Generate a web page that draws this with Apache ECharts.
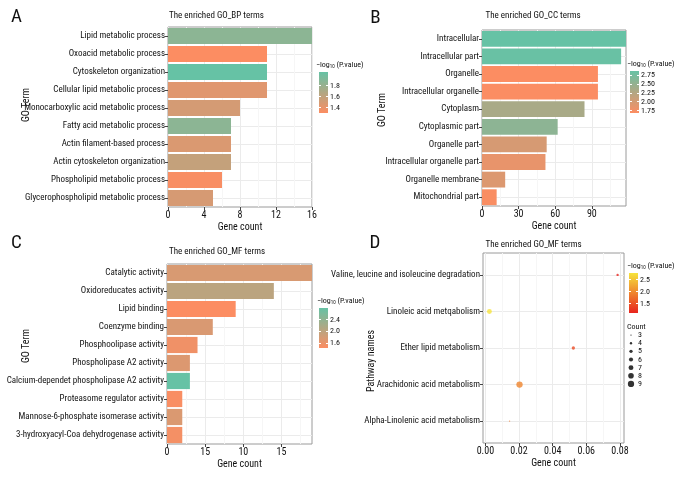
<!DOCTYPE html>
<html><head><meta charset="utf-8">
<script src="https://cdn.jsdelivr.net/npm/echarts@6/dist/echarts.min.js"></script>
<style>html,body{margin:0;padding:0;background:#fff}#c{width:680px;height:480px}</style>
</head><body><div id="c"></div>
<script>
// ---------------- DATA ----------------
// Panel A – GO BP
const termsA = ['Lipid metabolic process','Oxoacid metabolic process','Cytoskeleton organization','Cellular lipid metabolic process','Monocarboxylic acid metabolic process','Fatty acid metabolic process','Actin filament-based process','Actin cytoskeleton organization','Phospholipid metabolic process','Glycerophospholipid metabolic process'];
const countA = [16,11,11,11,8,7,7,7,6,5];
const pA = [1.86,1.30,2.05,1.44,1.50,1.86,1.47,1.58,1.32,1.49];
const ticksA = [0,4,8,12,16];
const legTicksA = [1.4,1.6,1.8];

// Panel B – GO CC
const termsB = ['Intracellular','Intracellular part','Organelle','Intracellular organelle','Cytoplasm','Cytoplasmic part','Organelle part','Intracellular organelle part','Organelle membrane','Mitochondrial part'];
const countB = [118,114,95,95,84,62,53,52,19,12];
const pB = [2.87,2.85,1.68,1.69,2.34,2.56,1.98,1.84,1.93,1.70];
const ticksB = [0,30,60,90];
const legTicksB = [1.75,2.00,2.25,2.50,2.75];

// Panel C – GO MF
const termsC = ['Catalytic activity','Oxidoreducates activity','Lipid binding','Coenzyme binding','Phosphoolipase activity','Phospholipase A2 activity','Calcium-dependet phospholipase A2 activity','Proteasome regulator activity','Mannose-6-phosphate isomerase activity','3-hydroxyacyl-Coa dehydrogenase activity'];
const countC = [19,14,9,6,4,3,3,2,2,2];
const pC = [1.76,2.02,1.43,1.75,1.54,1.72,2.80,1.46,1.74,1.50];
const ticksC = [0,5,10,15];
const tickLabelsC = ['0','15','10','15'];
const legTicksC = [1.6,2.0,2.4];

// Panel D – pathways
const pathD = ['Valine, leucine and isoleucine degradation','Linoleic acid metqabolism','Ether lipid metabolism','Arachidonic acid metabolism','Alpha-Linolenic acid metabolism'];
const ratioD = [0.0786,0.0024,0.0523,0.0203,0.0144];
const pD = [1.11,2.78,1.45,1.95,1.85];
const countD = [4,7,5,9,3];
const ticksD = [0,0.02,0.04,0.06,0.08];
const tickLabelsD = ['0.00','0.02','0.04','0.06','0.08'];
const legTicksD = [1.5,2.0,2.5];
const countLegend = [3,4,5,6,7,8,9];

// ---------------- STYLE ----------------
const FONT = '"Roboto Condensed","DejaVu Sans Condensed",sans-serif';
const TXT = '#111';
const LBL = 9;
const barLow = '#FC8D62', barHigh = '#66C2A5';
const dotLow = '#E8241E', dotHigh = '#F6E43C';
const GRID_C = '#ebebeb', MINOR_C = '#f6f6f6', BORDER_C = '#9a9a9a';

function sizeOf(c){ // area-like size scale
  const a = Math.sqrt(3), b = Math.sqrt(9);
  return 1.3 + (Math.sqrt(c)-a)/(b-a)*5.0;
}
const mn = a => Math.min.apply(null,a), mx = a => Math.max.apply(null,a);

const grids = [], xAxes = [], yAxes = [], series = [], visualMaps = [];

function mainGrid(box){
  grids.push({left:box[0], top:box[1], width:box[2], height:box[3], show:true, borderColor:BORDER_C, borderWidth:1, backgroundColor:'transparent', containLabel:false});
  return grids.length-1;
}
function lbl(o){ return Object.assign({fontSize:LBL, fontFamily:FONT, color:TXT, margin:3}, o||{}); }
function xValAxis(g, o){
  xAxes.push(Object.assign({type:'value', gridIndex:g, axisLine:{show:false, onZero:false},
    axisTick:{show:true, length:3, lineStyle:{color:'#444'}},
    axisLabel:lbl({fontSize:10}),
    splitLine:{show:true, lineStyle:{color:GRID_C, width:1}},
    minorTick:{show:false, splitNumber:2},
    minorSplitLine:{show:true, lineStyle:{color:MINOR_C, width:1}},
    name:'Gene count', nameLocation:'middle', nameGap:15,
    nameTextStyle:{fontSize:10, fontFamily:FONT, color:TXT}}, o));
  return xAxes.length-1;
}
function barPanel(box, terms, counts, pv, xo){
  const g = mainGrid(box);
  const xi = xValAxis(g, xo);
  yAxes.push({type:'category', gridIndex:g, data:terms, inverse:true,
    axisLine:{show:false, onZero:false},
    axisTick:{show:true, alignWithLabel:true, interval:0, length:3, lineStyle:{color:'#444'}},
    axisLabel:lbl({interval:0}),
    splitLine:{show:true, alignWithLabel:true, interval:0, lineStyle:{color:GRID_C}}});
  const yi = yAxes.length-1;
  series.push({type:'bar', xAxisIndex:xi, yAxisIndex:yi, silent:true, barCategoryGap:'10%',
    encode:{x:0, y:1},
    data: counts.map((c,k)=>[c, terms[k], pv[k]])});
  visualMaps.push({type:'continuous', show:false, seriesIndex:series.length-1, dimension:2,
    min:mn(pv), max:mx(pv), inRange:{color:[barLow, barHigh]}});
}
function colorLegend(box, pv, ticks, dec, low, high){
  grids.push({left:box[0], top:box[1], width:box[2], height:box[3], show:true, borderWidth:0,
    backgroundColor:new echarts.graphic.LinearGradient(0,0,0,1,[{offset:0,color:high},{offset:1,color:low}])});
  const g = grids.length-1;
  xAxes.push({type:'value', gridIndex:g, show:false, min:0, max:1, axisLine:{onZero:false}});
  const common = {type:'value', gridIndex:g, min:mn(pv), max:mx(pv), axisLine:{show:false, onZero:false}, splitLine:{show:false},
    axisTick:{show:true, inside:true, length:2, customValues:ticks, lineStyle:{color:'#fff'}}};
  yAxes.push(Object.assign({}, common, {position:'right',
    axisLabel:{show:true, customValues:ticks, fontSize:8, fontFamily:FONT, color:TXT, margin:2, formatter:v=>v.toFixed(dec)}}));
  yAxes.push(Object.assign({}, common, {position:'left', axisLabel:{show:false}}));
}

// Panel A
barPanel([168,27,144,180], termsA, countA, pA,
  {min:0, max:mx(countA), interval:4,
   axisTick:{show:true, length:3, customValues:ticksA, lineStyle:{color:'#444'}},
   axisLabel:lbl({fontSize:10, customValues:ticksA})});
// Panel B
barPanel([482,30,144,176], termsB, countB, pB,
  {min:0, max:mx(countB), interval:30,
   axisTick:{show:true, length:3, customValues:ticksB, lineStyle:{color:'#444'}},
   axisLabel:lbl({fontSize:10, customValues:ticksB})});
// Panel C
barPanel([167,264,145,180], termsC, countC, pC,
  {min:0, max:mx(countC), interval:5,
   axisTick:{show:true, length:3, customValues:ticksC, lineStyle:{color:'#444'}},
   axisLabel:lbl({fontSize:10, customValues:ticksC, formatter:v=>tickLabelsC[ticksC.indexOf(v)]})});

// Panel D (dot plot)
{
  const g = mainGrid([483,253,141,190]);
  const R = mx(ratioD)-mn(ratioD);
  const xi = xValAxis(g, {min:mn(ratioD)-0.05*R, max:mx(ratioD)+0.05*R,
    axisTick:{show:true, length:3, customValues:ticksD, lineStyle:{color:'#444'}},
    axisLabel:lbl({fontSize:10, customValues:ticksD,
      formatter:v=>tickLabelsD[ticksD.findIndex(t=>Math.abs(t-v)<1e-9)]})});
  const idx = pathD.map((_,k)=>k);
  yAxes.push({type:'value', gridIndex:g, min:-0.6, max:pathD.length-0.4, inverse:true,
    axisLine:{show:false, onZero:false},
    axisTick:{show:true, length:3, customValues:idx, lineStyle:{color:'#444'}},
    axisLabel:lbl({customValues:idx, formatter:v=>pathD[v]}),
    splitLine:{show:true, lineStyle:{color:GRID_C}}});
  const yi = yAxes.length-1;
  series.push({type:'scatter', xAxisIndex:xi, yAxisIndex:yi, silent:true, symbol:'circle',
    symbolSize:v=>sizeOf(v[3]),
    data: ratioD.map((x,k)=>[x, k, pD[k], countD[k]])});
  visualMaps.push({type:'continuous', show:false, seriesIndex:series.length-1, dimension:2,
    min:mn(pD), max:mx(pD), inRange:{color:[dotLow, dotHigh]}});
}

// Colour legends
colorLegend([319,72,9,41], pA, legTicksA, 1, barLow, barHigh);
colorLegend([630,71,9,42], pB, legTicksB, 2, barLow, barHigh);
colorLegend([319,308,9,40], pC, legTicksC, 1, barLow, barHigh);
colorLegend([629,273,9,40], pD, legTicksD, 1, dotLow, dotHigh);

// Count (size) legend
{
  grids.push({left:628, top:331, width:6, height:57, show:false});
  const g = grids.length-1;
  xAxes.push({type:'value', gridIndex:g, show:false, min:-1, max:1, axisLine:{onZero:false}});
  yAxes.push({type:'category', gridIndex:g, data:countLegend.map(String), inverse:true, position:'right',
    axisLine:{show:false, onZero:false}, axisTick:{show:false}, splitLine:{show:false},
    axisLabel:{interval:0, fontSize:8, fontFamily:FONT, color:TXT, margin:4}});
  series.push({type:'scatter', xAxisIndex:xAxes.length-1, yAxisIndex:yAxes.length-1, silent:true,
    symbol:'circle', itemStyle:{color:'#000'}, symbolSize:v=>sizeOf(countLegend[v[1]]),
    data: countLegend.map((c,k)=>[0,k])});
}

// Texts
function txt(x, y, text, size, o){
  o = o||{};
  const el = {type:'text', x:x, y:y, silent:true, z:100,
    style:{text:text, fontSize:size, fontFamily:FONT, fill:TXT, align:o.align||'left', verticalAlign:'middle', rich:o.rich}};
  if (o.rot) el.rotation = o.rot;
  return el;
}
const legRich = {s:{fontSize:5, fontFamily:FONT, fill:TXT, verticalAlign:'bottom', padding:[3,0,0,0]}};
const legTitle = '\u2212log{s|10} (P.value)';
const graphics = [
  txt(16.5,17,'A',19,{align:'center'}),
  txt(375.5,18,'B',19,{align:'center'}),
  txt(16.5,243,'C',19,{align:'center'}),
  txt(375,243,'D',19,{align:'center'}),
  txt(169,16,'The enriched GO_BP terms',9),
  txt(485.5,16,'The enriched GO_CC terms',9),
  txt(169,252,'The enriched GO_MF terms',9),
  txt(485.5,245,'The enriched GO_MF terms',9),
  txt(26,105,'GO Term',10,{align:'center', rot:Math.PI/2}),
  txt(382.5,110,'GO Term',10,{align:'center', rot:Math.PI/2}),
  txt(26,346,'GO Term',10,{align:'center', rot:Math.PI/2}),
  txt(371.5,361,'Pathway names',10,{align:'center', rot:Math.PI/2}),
  txt(316,65,legTitle,8,{rich:legRich}),
  txt(627,64,legTitle,8,{rich:legRich}),
  txt(317,301,legTitle,8,{rich:legRich}),
  txt(627,266,legTitle,8,{rich:legRich}),
  txt(627,327,'Count',8)
];

const chart = echarts.init(document.getElementById('c'), null, {renderer:'canvas'});
chart.setOption({
  animation:false,
  backgroundColor:'#fff',
  grid:grids, xAxis:xAxes, yAxis:yAxes, series:series, visualMap:visualMaps,
  graphic:graphics
});
</script>
</body></html>
